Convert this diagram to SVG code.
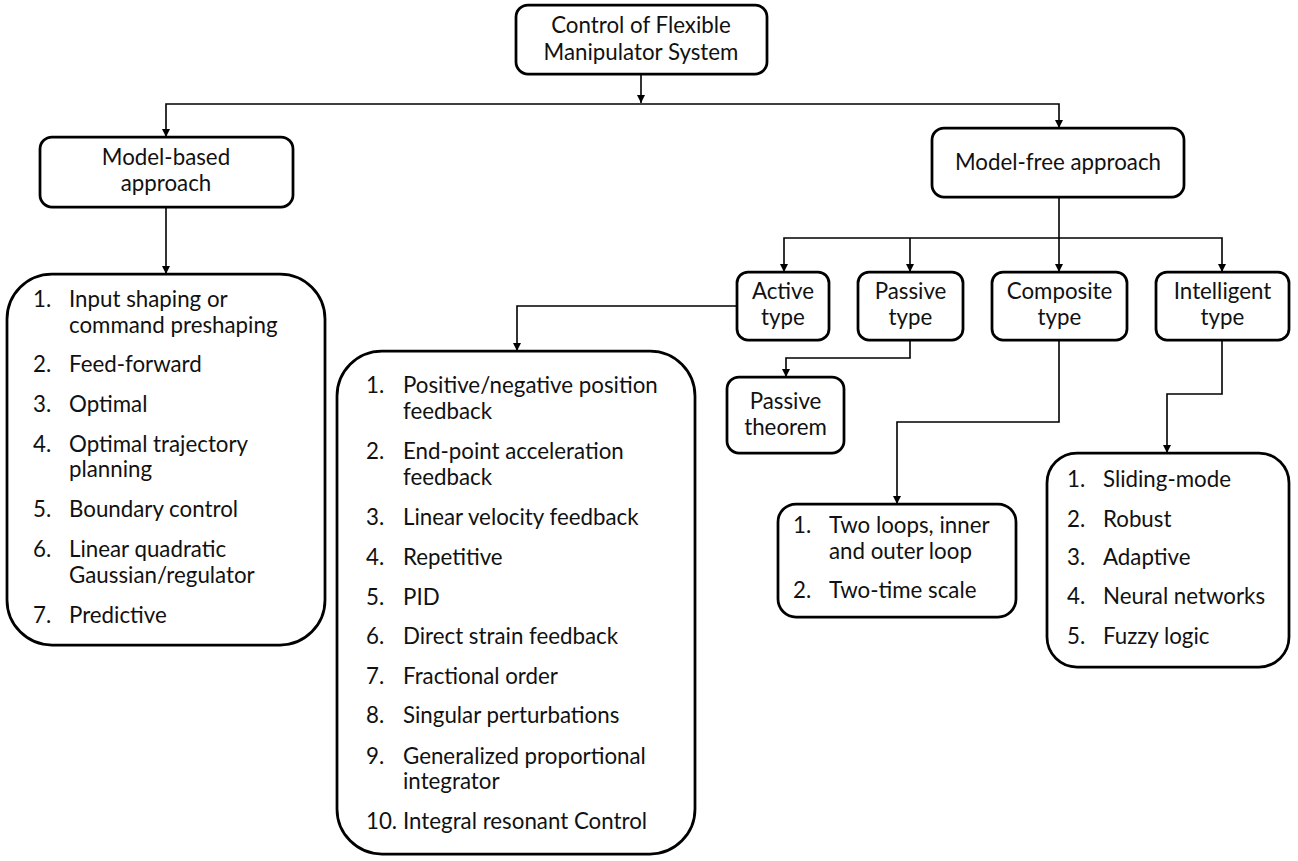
<svg xmlns="http://www.w3.org/2000/svg" width="1298" height="861" viewBox="0 0 1298 861">
<style>
.box{fill:#fff;stroke:#000;stroke-width:2.75}
.t{font-family:Lato,"Liberation Sans",sans-serif;font-size:22.3px;fill:#111}
.c{text-anchor:middle}
.ln{fill:none;stroke:#000;stroke-width:1.6}
</style>
<defs>
<marker id="ah" markerUnits="userSpaceOnUse" markerWidth="8" markerHeight="8" refX="8" refY="4" orient="auto">
<path d="M0,0 L8,4 L0,8 z" fill="#000"/>
</marker>
</defs>
<rect width="1298" height="861" fill="#fff"/>
<g id="connectors">
<path class="ln" d="M641,74 V103" marker-end="url(#ah)"/>
<path class="ln" d="M641,104 H166 V137" marker-end="url(#ah)"/>
<path class="ln" d="M641,104 H1059 V128" marker-end="url(#ah)"/>
<path class="ln" d="M166,207 V274" marker-end="url(#ah)"/>
<path class="ln" d="M1059,197 V238 H784 V272" marker-end="url(#ah)"/>
<path class="ln" d="M910,238 V272" marker-end="url(#ah)"/>
<path class="ln" d="M1059,238 V272" marker-end="url(#ah)"/>
<path class="ln" d="M1059,238 H1222 V272" marker-end="url(#ah)"/>
<path class="ln" d="M737,306 H517 V351" marker-end="url(#ah)"/>
<path class="ln" d="M910,340 V358 H786 V377" marker-end="url(#ah)"/>
<path class="ln" d="M1059,340 V422 H897 V504" marker-end="url(#ah)"/>
<path class="ln" d="M1222,340 V394 H1167 V453" marker-end="url(#ah)"/>
</g>
<g id="root">
<rect class="box" x="516" y="5" width="251" height="69" rx="12"/>
<text class="t c" x="641" y="33">Control of Flexible</text>
<text class="t c" x="641" y="60">Manipulator System</text>
</g>
<g id="model-based">
<rect class="box" x="40" y="137" width="253" height="70" rx="12"/>
<text class="t c" x="166" y="165">Model-based</text>
<text class="t c" x="166" y="191">approach</text>
</g>
<g id="model-free">
<rect class="box" x="932" y="128" width="252" height="69" rx="12"/>
<text class="t c" x="1058" y="170">Model-free approach</text>
</g>
<g id="active">
<rect class="box" x="737" y="272" width="92" height="68" rx="11"/>
<text class="t c" x="783" y="299">Active</text>
<text class="t c" x="783" y="325">type</text>
</g>
<g id="passive">
<rect class="box" x="858" y="272" width="105" height="68" rx="11"/>
<text class="t c" x="910.5" y="299">Passive</text>
<text class="t c" x="910.5" y="325">type</text>
</g>
<g id="composite">
<rect class="box" x="992" y="272" width="135" height="68" rx="11"/>
<text class="t c" x="1059.5" y="299">Composite</text>
<text class="t c" x="1059.5" y="325">type</text>
</g>
<g id="intelligent">
<rect class="box" x="1156" y="272" width="133" height="68" rx="11"/>
<text class="t c" x="1222.5" y="299">Intelligent</text>
<text class="t c" x="1222.5" y="325">type</text>
</g>
<g id="passive-theorem">
<rect class="box" x="727" y="377" width="117" height="76" rx="12"/>
<text class="t c" x="785.5" y="409">Passive</text>
<text class="t c" x="785.5" y="435">theorem</text>
</g>
<g id="model-based-list">
<rect class="box" x="7" y="274" width="318" height="371" rx="45"/>
<text class="t" x="33" y="307">1.</text><text class="t" x="69" y="307">Input shaping or</text>
<text class="t" x="69" y="333">command preshaping</text>
<text class="t" x="33" y="372">2.</text><text class="t" x="69" y="372">Feed-forward</text>
<text class="t" x="33" y="412">3.</text><text class="t" x="69" y="412">Optimal</text>
<text class="t" x="33" y="452">4.</text><text class="t" x="69" y="452">Optimal trajectory</text>
<text class="t" x="69" y="477">planning</text>
<text class="t" x="33" y="517">5.</text><text class="t" x="69" y="517">Boundary control</text>
<text class="t" x="33" y="557">6.</text><text class="t" x="69" y="557">Linear quadratic</text>
<text class="t" x="69" y="583">Gaussian/regulator</text>
<text class="t" x="33" y="623">7.</text><text class="t" x="69" y="623">Predictive</text>
</g>
<g id="active-list">
<rect class="box" x="337" y="351" width="358" height="503" rx="45"/>
<text class="t" x="366" y="393">1.</text><text class="t" x="403" y="393">Positive/negative position</text>
<text class="t" x="403" y="419">feedback</text>
<text class="t" x="366" y="459">2.</text><text class="t" x="403" y="459">End-point acceleration</text>
<text class="t" x="403" y="485">feedback</text>
<text class="t" x="366" y="525">3.</text><text class="t" x="403" y="525">Linear velocity feedback</text>
<text class="t" x="366" y="565">4.</text><text class="t" x="403" y="565">Repetitive</text>
<text class="t" x="366" y="605">5.</text><text class="t" x="403" y="605">PID</text>
<text class="t" x="366" y="644">6.</text><text class="t" x="403" y="644">Direct strain feedback</text>
<text class="t" x="366" y="684">7.</text><text class="t" x="403" y="684">Fractional order</text>
<text class="t" x="366" y="723">8.</text><text class="t" x="403" y="723">Singular perturbations</text>
<text class="t" x="366" y="764">9.</text><text class="t" x="403" y="764">Generalized proportional</text>
<text class="t" x="403" y="789">integrator</text>
<text class="t" x="366" y="829">10.</text><text class="t" x="403" y="829">Integral resonant Control</text>
</g>
<g id="composite-list">
<rect class="box" x="778" y="504" width="238" height="113" rx="18"/>
<text class="t" x="793" y="533">1.</text><text class="t" x="829" y="533">Two loops, inner</text>
<text class="t" x="829" y="559">and outer loop</text>
<text class="t" x="793" y="598">2.</text><text class="t" x="829" y="598">Two-time scale</text>
</g>
<g id="intelligent-list">
<rect class="box" x="1047" y="453" width="242" height="214" rx="30"/>
<text class="t" x="1067" y="487">1.</text><text class="t" x="1103" y="487">Sliding-mode</text>
<text class="t" x="1067" y="527">2.</text><text class="t" x="1103" y="527">Robust</text>
<text class="t" x="1067" y="565">3.</text><text class="t" x="1103" y="565">Adaptive</text>
<text class="t" x="1067" y="604">4.</text><text class="t" x="1103" y="604">Neural networks</text>
<text class="t" x="1067" y="644">5.</text><text class="t" x="1103" y="644">Fuzzy logic</text>
</g>
</svg>
